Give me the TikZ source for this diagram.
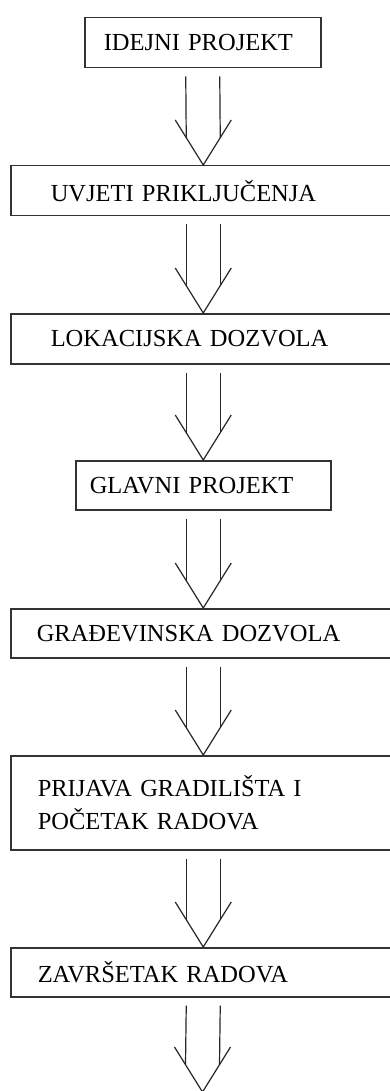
\documentclass[tikz,border=0pt]{standalone}
\usepackage{fontspec}
\setmainfont{Liberation Serif}
\begin{document}
\begin{tikzpicture}[
    x=1pt, y=1pt,
    every node/.style={inner ysep=0pt, font=\fontsize{24.5}{33}\selectfont, align=left, anchor=north west},
    stepbox/.style={draw=black!80, line width=1.5pt, minimum height=50pt},
    flowline/.style={draw=black!85, line width=1.2pt}
]
\useasboundingbox (0,0) rectangle (390,-1091);
\clip (0,0) rectangle (390,-1091);
\node[stepbox, inner xsep=19pt, text width=198pt] (idejni) at (84,-17) {IDEJNI PROJEKT};
\node[stepbox, inner xsep=40pt, text width=305pt] (uvjeti) at (10,-165) {UVJETI PRIKLJUČENJA};
\node[stepbox, inner xsep=40pt, text width=305pt] (lokacija) at (10,-313) {LOKACIJSKA DOZVOLA};
\node[stepbox, inner xsep=14pt, text width=227pt, minimum height=49pt] (glavni) at (75,-460) {GLAVNI PROJEKT};
\node[stepbox, inner xsep=26pt, text width=333pt, minimum height=49pt] (gradjevinska) at (10,-608) {GRAĐEVINSKA DOZVOLA};
\node[stepbox, inner xsep=27pt, text width=331pt, minimum height=94pt] (prijava) at (10,-755) {PRIJAVA GRADILIŠTA I\\POČETAK RADOVA};
\node[stepbox, inner xsep=27pt, text width=331pt, minimum height=49pt, text depth=-4pt] (zavrsetak) at (10,-947) {ZAVRŠETAK RADOVA};
\coordinate (kraj) at (202.5,-1092);
% hollow arrows between the steps
\foreach \from/\to in {idejni.south/uvjeti.north, uvjeti.south/lokacija.north,
    lokacija.south/glavni.north, glavni.south/gradjevinska.north,
    gradjevinska.south/prijava.north, prijava.south/zavrsetak.north, zavrsetak.south/kraj} {
    \draw[flowline] ([xshift=-17pt, yshift=-8pt]\from) -- ([xshift=-17pt, yshift=27.3pt]\to);
    \draw[flowline] ([xshift=17pt, yshift=-8pt]\from) -- ([xshift=17pt, yshift=27.3pt]\to);
    \draw[flowline] ([xshift=-28pt, yshift=45pt]\to) -- (\to) -- ([xshift=28pt, yshift=45pt]\to);
}
\end{tikzpicture}
\end{document}
